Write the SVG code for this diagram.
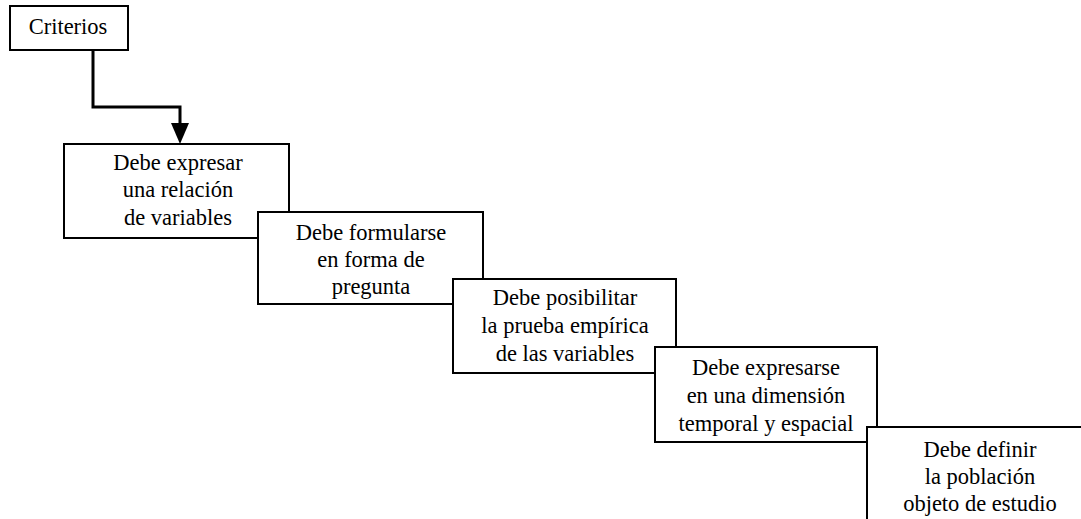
<svg xmlns="http://www.w3.org/2000/svg" width="1081" height="519" viewBox="0 0 1081 519">
<style>
.box{fill:#fff;stroke:#000;stroke-width:2}
.t{font-family:"Liberation Serif","Times New Roman",serif;font-size:22.5px;fill:#000;text-anchor:middle}
.conn{fill:none;stroke:#000;stroke-width:3}
</style>
<rect width="1081" height="519" fill="#fff"/>
<g id="criterios">
<rect class="box" x="10" y="6" width="118" height="44"/>
<text class="t" x="68" y="34">Criterios</text>
</g>
<g id="connectors">
<path class="conn" d="M93,50 V107 H180 V125"/>
<path d="M171,123 L189,123 L180,144 Z" fill="#000"/>
</g>
<g id="n1">
<rect class="box" x="64" y="144" width="225" height="94"/>
<text class="t" x="178" y="170">Debe expresar</text>
<text class="t" x="178" y="197">una relación</text>
<text class="t" x="178" y="225">de variables</text>
</g>
<g id="n2">
<rect class="box" x="258" y="212" width="225" height="92"/>
<text class="t" x="371" y="240">Debe formularse</text>
<text class="t" x="371" y="267">en forma de</text>
<text class="t" x="371" y="294">pregunta</text>
</g>
<g id="n3">
<rect class="box" x="453" y="279" width="223" height="94"/>
<text class="t" x="565" y="305">Debe posibilitar</text>
<text class="t" x="565" y="333">la prueba empírica</text>
<text class="t" x="565" y="361">de las variables</text>
</g>
<g id="n4">
<rect class="box" x="655" y="347" width="222" height="95"/>
<text class="t" x="766" y="375">Debe expresarse</text>
<text class="t" x="766" y="403">en una dimensión</text>
<text class="t" x="766" y="431">temporal y espacial</text>
</g>
<g id="n5">
<rect class="box" x="867" y="427" width="230" height="110"/>
<text class="t" x="980" y="457">Debe definir</text>
<text class="t" x="980" y="484">la población</text>
<text class="t" x="980" y="511">objeto de estudio</text>
</g>
</svg>
